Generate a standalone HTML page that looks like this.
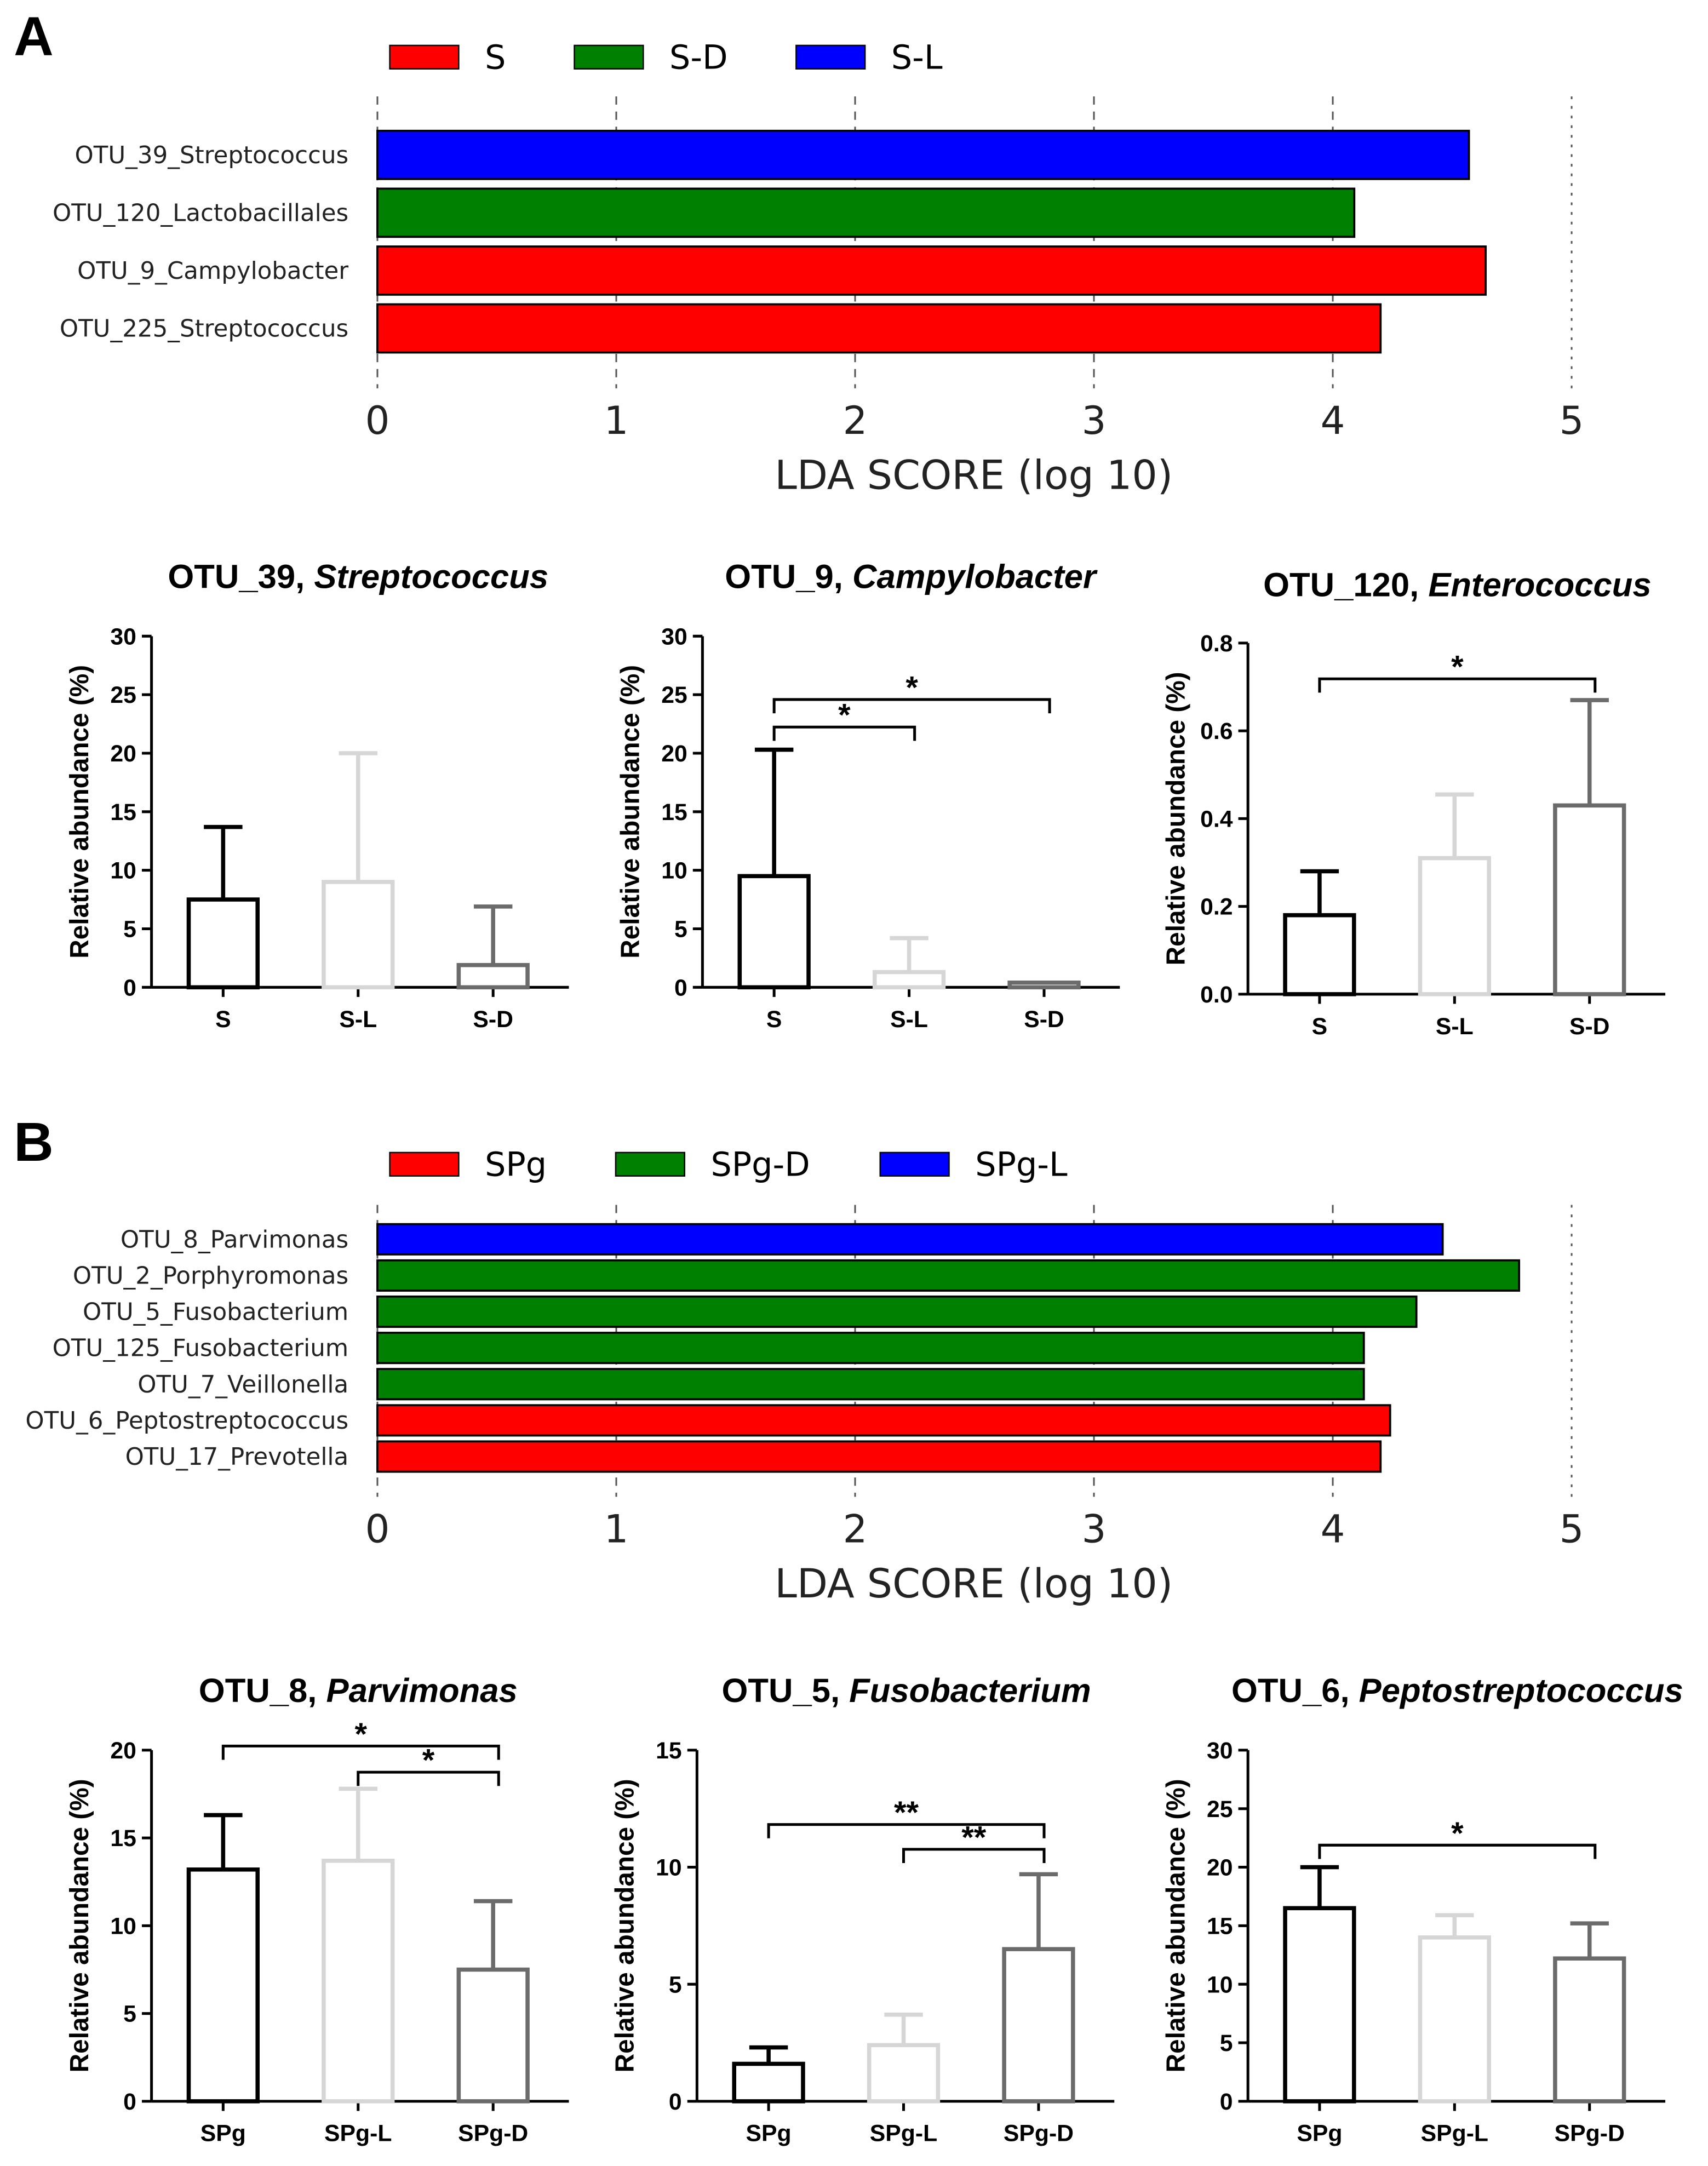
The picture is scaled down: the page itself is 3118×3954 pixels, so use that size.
<!DOCTYPE html>
<html><head><meta charset="utf-8"><style>
html,body{margin:0;padding:0;background:#fff}
svg{display:block}
text{font-family:"Liberation Sans","DejaVu Sans",sans-serif}
.lda text{font-family:"DejaVu Sans","Liberation Sans",sans-serif}
</style></head><body>
<svg id="root" width="3118" height="3954" viewBox="0 0 1240 1573" preserveAspectRatio="none" xmlns="http://www.w3.org/2000/svg">
<text x="10" y="40" font-size="40" font-weight="bold">A</text>
<text x="10" y="843" font-size="40" font-weight="bold">B</text>
<g id="ldaA" class="lda"></g>
<g id="ldaB" class="lda"></g>
<g id="bars"></g>
</svg>
<script>
// ---- LDA data ----
const ldaA_labels=["OTU_39_Streptococcus","OTU_120_Lactobacillales","OTU_9_Campylobacter","OTU_225_Streptococcus"];
const ldaA_values=[4.57,4.09,4.64,4.2];
const ldaA_groups=["S-L","S-D","S","S"];
const ldaA_legend=["S","S-D","S-L"];
const ldaB_labels=["OTU_8_Parvimonas","OTU_2_Porphyromonas","OTU_5_Fusobacterium","OTU_125_Fusobacterium","OTU_7_Veillonella","OTU_6_Peptostreptococcus","OTU_17_Prevotella"];
const ldaB_values=[4.46,4.78,4.35,4.13,4.13,4.24,4.2];
const ldaB_groups=["SPg-L","SPg-D","SPg-D","SPg-D","SPg-D","SPg","SPg"];
const ldaB_legend=["SPg","SPg-D","SPg-L"];
const ldaTicks=[0,1,2,3,4,5];

// ---- bar chart data ----
const c1_cats=["S","S-L","S-D"], c1_vals=[7.5,9,1.9], c1_err=[13.7,20,6.9], c1_ticks=[0,5,10,15,20,25,30];
const c2_cats=["S","S-L","S-D"], c2_vals=[9.5,1.3,0.4], c2_err=[20.3,4.2,0.4], c2_ticks=[0,5,10,15,20,25,30];
const c3_cats=["S","S-L","S-D"], c3_vals=[0.18,0.31,0.43], c3_err=[0.28,0.455,0.67], c3_ticks=[0,0.2,0.4,0.6,0.8];
const c4_cats=["SPg","SPg-L","SPg-D"], c4_vals=[13.2,13.7,7.5], c4_err=[16.3,17.8,11.4], c4_ticks=[0,5,10,15,20];
const c5_cats=["SPg","SPg-L","SPg-D"], c5_vals=[1.6,2.4,6.5], c5_err=[2.3,3.7,9.7], c5_ticks=[0,5,10,15];
const c6_cats=["SPg","SPg-L","SPg-D"], c6_vals=[16.5,14,12.2], c6_err=[20,15.9,15.2], c6_ticks=[0,5,10,15,20,25,30];

const NS="http://www.w3.org/2000/svg";
function mk(p,tag,a,txt){const e=document.createElementNS(NS,tag);for(const k in a)e.setAttribute(k,a[k]);if(txt!==undefined)e.textContent=txt;p.appendChild(e);return e;}
const gcol={"S":"#ff0000","S-D":"#008000","S-L":"#0000ff","SPg":"#ff0000","SPg-D":"#008000","SPg-L":"#0000ff"};

function lda(id,labels,vals,groups,legend,legX,legY,gridTop,barTop,barH,barStep,axisY){
  const g=document.getElementById(id);
  const x0=274,x1=1141,sx=v=>x0+(x1-x0)*v/5;
  legend.forEach((n,i)=>{
    const r=mk(g,'rect',{x:legX[i],y:legY,width:50,height:17,fill:gcol[n],stroke:'#000','stroke-width':1});
    
    
    const t=mk(g,'text',{x:legX[i]+69,y:legY+17,'font-size':24},n);
    
    
  });
  ldaTicks.forEach(v=>{
    const x=sx(v);
    const l=mk(g,'line',{x1:x,x2:x,y1:gridTop,y2:axisY+12,stroke:'#555','stroke-width':1.2,'stroke-dasharray':v==5?'2,5':'6,5'});
    
    
    const t=mk(g,'text',{x:x,y:axisY+45,'font-size':28,'text-anchor':'middle',fill:'#222'},v);
    
    
  });
  labels.forEach((lab,i)=>{
    const y=barTop+i*barStep;
    const r=mk(g,'rect',{x:x0,y:y,width:sx(vals[i])-x0,height:barH,fill:gcol[groups[i]],stroke:'#000','stroke-width':1.5});
    
    
    const t=mk(g,'text',{x:253,y:y+barH/2+6,'font-size':17.3,'text-anchor':'end',fill:'#222'},lab);
    
    
  });
  const tt=mk(g,'text',{x:707,y:axisY+85,'font-size':29,'text-anchor':'middle',fill:'#222'},'LDA SCORE (log 10)');
  
  
}
lda('ldaA',ldaA_labels,ldaA_values,ldaA_groups,ldaA_legend,[283,417,578],33,70,95,35,42,270);
lda('ldaB',ldaB_labels,ldaB_values,ldaB_groups,ldaB_legend,[283,447,639],837,875,889,22,26.3,1075);

const barCols=["#000","#d6d6d6","#6b6b6b"];
function chart(o){
  const g=mk(document.getElementById('bars'),'g',{});
  
  
  const maxv=o.ticks[o.ticks.length-1];
  const sy=v=>o.y0-(o.y0-o.yTop)*v/maxv;
  const sx=i=>o.ax+52+i*98;
  const t=mk(g,'text',{x:o.tx,y:o.ty,'font-size':24.5,'font-weight':'bold','text-anchor':'middle'});
  
  
  mk(t,'tspan',{},o.t1+', ');mk(t,'tspan',{'font-style':'italic'},o.t2);
  mk(g,'line',{x1:o.ax,x2:o.ax,y1:o.yTop,y2:o.y0,stroke:'#000','stroke-width':2});
  mk(g,'line',{x1:o.ax,x2:o.ax+303,y1:o.y0,y2:o.y0,stroke:'#000','stroke-width':2});
  o.ticks.forEach(v=>{
    const y=sy(v);
    mk(g,'line',{x1:o.ax-7,x2:o.ax,y1:y,y2:y,stroke:'#000','stroke-width':2});
    const tl=mk(g,'text',{x:o.ax-11,y:y+6,'font-size':17,'font-weight':'bold','text-anchor':'end'},o.dec?v.toFixed(1):v);
    
    
  });
  const yl=mk(g,'text',{x:0,y:0,'font-size':19,'font-weight':'bold','text-anchor':'middle',transform:`translate(${o.ax-46},${(o.yTop+o.y0)/2}) rotate(-90)`},'Relative abundance (%)');
  
  
  o.cats.forEach((c,i)=>{
    const cx=sx(i),col=barCols[i];
    mk(g,'line',{x1:cx,x2:cx,y1:o.y0,y2:o.y0+7,stroke:'#000','stroke-width':2});
    const yv=sy(o.vals[i]),ye=sy(o.err[i]);
    mk(g,'line',{x1:cx,x2:cx,y1:yv,y2:ye,stroke:col,'stroke-width':3});
    mk(g,'line',{x1:cx-14,x2:cx+14,y1:ye,y2:ye,stroke:col,'stroke-width':3});
    const r=mk(g,'rect',{x:cx-25,y:yv,width:50,height:o.y0-yv,fill:'#fff',stroke:col,'stroke-width':3});
    
    
    const cl=mk(g,'text',{x:cx,y:o.y0+29,'font-size':17,'font-weight':'bold','text-anchor':'middle'},c);
    
    
  });
  (o.sig||[]).forEach(s=>{
    const x1=sx(s[0]),x2=sx(s[1])+4,y=s[2];
    mk(g,'path',{d:`M${x1},${y+10}V${y}H${x2}V${y+10}`,fill:'none',stroke:'#000','stroke-width':2});
    const st=mk(g,'text',{x:(x1+x2)/2,y:y-1,'font-size':23,'font-weight':'bold','text-anchor':'middle'},s[3]);
    
    
  });
}
chart({name:'chart-otu39',ax:110,yTop:462,y0:717,cats:c1_cats,vals:c1_vals,err:c1_err,ticks:c1_ticks,tx:260,ty:427,t1:'OTU_39',t2:'Streptococcus'});
chart({name:'chart-otu9',ax:510,yTop:462,y0:717,cats:c2_cats,vals:c2_vals,err:c2_err,ticks:c2_ticks,tx:661,ty:427,t1:'OTU_9',t2:'Campylobacter',sig:[[0,2,508,'*'],[0,1,528,'*']]});
chart({name:'chart-otu120',ax:906,yTop:467,y0:722,cats:c3_cats,vals:c3_vals,err:c3_err,ticks:c3_ticks,dec:true,tx:1058,ty:433,t1:'OTU_120',t2:'Enterococcus',sig:[[0,2,493,'*']]});
chart({name:'chart-otu8',ax:110,yTop:1271,y0:1526,cats:c4_cats,vals:c4_vals,err:c4_err,ticks:c4_ticks,tx:260,ty:1236,t1:'OTU_8',t2:'Parvimonas',sig:[[0,2,1268,'*'],[1,2,1287,'*']]});
chart({name:'chart-otu5',ax:506,yTop:1271,y0:1526,cats:c5_cats,vals:c5_vals,err:c5_err,ticks:c5_ticks,tx:658,ty:1236,t1:'OTU_5',t2:'Fusobacterium',sig:[[0,2,1325,'**'],[1,2,1343,'**']]});
chart({name:'chart-otu6',ax:906,yTop:1271,y0:1526,cats:c6_cats,vals:c6_vals,err:c6_err,ticks:c6_ticks,tx:1058,ty:1236,t1:'OTU_6',t2:'Peptostreptococcus',sig:[[0,2,1340,'*']]});
</script>
</body></html>
